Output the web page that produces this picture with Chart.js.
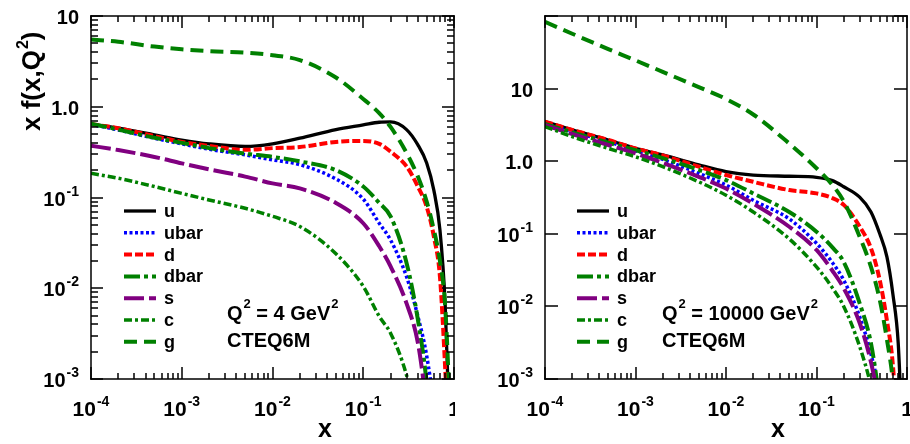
<!DOCTYPE html>
<html>
<head>
<meta charset="utf-8">
<script src="https://cdn.jsdelivr.net/npm/chart.js@4.4.0/dist/chart.umd.min.js"></script>
<style>
  html, body { margin: 0; padding: 0; background: #fff; }
  #wrap { position: relative; width: 910px; height: 444px; overflow: hidden; }
  canvas { position: absolute; top: 0; }
</style>
</head>
<body>
<div id="wrap">
  <canvas id="lowQ" width="455" height="444" style="left:0"></canvas>
  <canvas id="highQ" width="455" height="444" style="left:455px"></canvas>
</div>
<script>
const xGrid = [1e-4, 2e-4, 5e-4, 1e-3, 2e-3, 5e-3, 0.01, 0.02, 0.05, 0.1, 0.15, 0.2, 0.3, 0.4, 0.5, 0.6, 0.7, 0.8, 0.9];
const partons = ["u", "ubar", "d", "dbar", "s", "c", "g"];

// Q^2 = 4 GeV^2
const u4    = [0.645, 0.58, 0.49, 0.43, 0.39, 0.365, 0.39, 0.45, 0.56, 0.63, 0.675, 0.68, 0.56, 0.38, 0.24, 0.12, 0.044, 0.0065, 0.0002];
const ubar4 = [0.64, 0.555, 0.45, 0.39, 0.34, 0.295, 0.26, 0.23, 0.16, 0.096, 0.052, 0.034, 0.0134, 0.0049, 0.0018, 0.0005, 0.0001, 0.00002, 0.000005];
const d4    = [0.645, 0.58, 0.475, 0.41, 0.37, 0.335, 0.35, 0.36, 0.41, 0.42, 0.39, 0.32, 0.22, 0.132, 0.079, 0.037, 0.0134, 0.0013, 0.0001];
const dbar4 = [0.65, 0.56, 0.455, 0.40, 0.35, 0.305, 0.28, 0.25, 0.2, 0.132, 0.087, 0.062, 0.019, 0.0045, 0.0009, 0.0001, 0.00002, 0.000005, 0.000001];
const s4    = [0.372, 0.333, 0.28, 0.238, 0.204, 0.17, 0.143, 0.126, 0.087, 0.052, 0.029, 0.0174, 0.0068, 0.0025, 0.0005, 0.0001, 0.00002, 0.000005, 0.000001];
const c4    = [0.185, 0.163, 0.132, 0.111, 0.094, 0.076, 0.062, 0.048, 0.024, 0.0105, 0.0049, 0.0032, 0.0011, 0.0003, 0.00006, 0.00001, 0.000002, 0.0000005, 0.0000001];
const g4    = [5.5, 5.2, 4.6, 4.3, 4.1, 3.95, 3.7, 3.27, 2.1, 1.22, 0.85, 0.60, 0.31, 0.17, 0.09, 0.044, 0.020, 0.0063, 0.0005];

// Q^2 = 10000 GeV^2
const u1e4    = [3.5, 2.7, 1.96, 1.5, 1.22, 0.89, 0.72, 0.645, 0.62, 0.60, 0.54, 0.445, 0.32, 0.20, 0.10, 0.048, 0.0144, 0.0031, 0.0001];
const ubar1e4 = [3.3, 2.55, 1.86, 1.40, 1.06, 0.68, 0.47, 0.29, 0.16, 0.074, 0.04, 0.023, 0.0072, 0.0022, 0.0006, 0.0001, 0.00002, 0.000005, 0.000001];
const d1e4    = [3.5, 2.7, 1.96, 1.5, 1.2, 0.84, 0.645, 0.52, 0.40, 0.36, 0.31, 0.25, 0.126, 0.063, 0.023, 0.0064, 0.0015, 0.0001, 0.00001];
const dbar1e4 = [3.25, 2.5, 1.8, 1.42, 1.1, 0.76, 0.55, 0.36, 0.2, 0.107, 0.065, 0.041, 0.011, 0.0031, 0.0005, 0.0001, 0.00002, 0.000005, 0.000001];
const s1e4    = [3.15, 2.37, 1.67, 1.28, 0.95, 0.61, 0.42, 0.26, 0.125, 0.06, 0.031, 0.0178, 0.0059, 0.0017, 0.0004, 0.00008, 0.00002, 0.000005, 0.000001];
const c1e4    = [3.0, 2.18, 1.5, 1.15, 0.84, 0.52, 0.34, 0.20, 0.085, 0.035, 0.018, 0.010, 0.0028, 0.0008, 0.0002, 0.00004, 0.00001, 0.000002, 0.0000005];
const g1e4    = [83, 57, 35, 24.5, 17, 10.5, 7.2, 4.4, 1.75, 0.8, 0.47, 0.28, 0.091, 0.035, 0.0123, 0.0035, 0.0009, 0.0001, 0.00001];

// tick labels: [mantissa, exponent]
const xTicks = [1e-4, 1e-3, 1e-2, 1e-1, 1];
const xTickLabels = [["10", "-4"], ["10", "-3"], ["10", "-2"], ["10", "-1"], ["1", ""]];
const yTicks = [1e-3, 1e-2, 1e-1, 1, 10];
const yTickLabels = [["10", "-3"], ["10", "-2"], ["10", "-1"], ["1.0", ""], ["10", ""]];
const minorSteps = [2, 3, 4, 5, 6, 7, 8, 9];

const lineStyle = {
  u:    { color: "#000000", dash: [], width: 3.3 },
  ubar: { color: "#0000ff", dash: [3, 2.5], width: 3.5 },
  d:    { color: "#ff0000", dash: [8, 3], width: 4 },
  dbar: { color: "#008000", dash: [16, 4, 4, 4], width: 4 },
  s:    { color: "#800080", dash: [20, 5], width: 4 },
  c:    { color: "#008000", dash: [8, 3, 3, 3], width: 3.5 },
  g:    { color: "#008000", dash: [13, 7], width: 4 }
};

const FONT = "'Liberation Sans', Arial, sans-serif";

// draws a run of [text, isSup] parts starting at x (or aligned)
function richText(ctx, x, y, parts, size, supSize, rise, align) {
  let total = 0;
  const widths = parts.map(([t, sup]) => {
    ctx.font = `bold ${sup ? supSize : size}px ${FONT}`;
    const w = ctx.measureText(t).width + (sup ? 1 : 0);
    total += w;
    return w;
  });
  let cx = x;
  if (align === "right") cx = x - total;
  else if (align === "center") cx = x - total / 2;
  ctx.textAlign = "left";
  ctx.textBaseline = "alphabetic";
  parts.forEach(([t, sup], i) => {
    ctx.font = `bold ${sup ? supSize : size}px ${FONT}`;
    ctx.fillText(t, cx + (sup ? 1 : 0), sup ? y - rise : y);
    cx += widths[i];
  });
}

// frame plus inward ticks on all four sides, placed with the chart's own scales
function drawFrame(chart, opts) {
  const ctx = chart.ctx;
  const a = chart.chartArea;
  const xs = chart.scales.x, ys = chart.scales.y;
  const L = Math.round(a.left), R = Math.round(a.right), T = Math.round(a.top), B = Math.round(a.bottom);
  const w = 1.5, h = w / 2;
  ctx.save();
  ctx.fillStyle = "#000000";
  ctx.fillRect(L - h, T - h, R - L + w, w);
  ctx.fillRect(L - h, B - h, R - L + w, w);
  ctx.fillRect(L - h, T - h, w, B - T + w);
  ctx.fillRect(R - h, T - h, w, B - T + w);

  const xMarks = [];
  xTicks.forEach(v => {
    xMarks.push([v, 12]);
    if (v < 1) minorSteps.forEach(k => xMarks.push([v * k, 6]));
  });
  xMarks.forEach(([v, len]) => {
    const px = Math.round(xs.getPixelForValue(v));
    ctx.fillRect(px - h, B - len, w, len);
    ctx.fillRect(px - h, T, w, len);
  });

  const yMarks = [];
  opts.yMajors.forEach(v => {
    yMarks.push([v, opts.yMajorLen]);
    if (opts.yMinor && v < opts.yMajors[opts.yMajors.length - 1]) minorSteps.forEach(k => yMarks.push([v * k, 7]));
  });
  yMarks.forEach(([v, len]) => {
    const py = Math.round(ys.getPixelForValue(v));
    ctx.fillRect(L, py - h, len, w);
    ctx.fillRect(R - len, py - h, len, w);
  });
  ctx.restore();
}

const framePlugin = {
  id: "frame",
  afterDraw(chart, args, opts) {
    drawFrame(chart, opts);
    const ctx = chart.ctx;
    const a = chart.chartArea;
    const xs = chart.scales.x, ys = chart.scales.y;
    ctx.save();
    ctx.fillStyle = "#000";

    // tick labels
    xTicks.forEach((v, i) => {
      const [m, e] = xTickLabels[i];
      richText(ctx, xs.getPixelForValue(v), 415.5, e ? [[m, false], [e, true]] : [[m, false]], 21, 14, 10, "center");
    });
    yTicks.forEach((v, i) => {
      const [m, e] = yTickLabels[i];
      richText(ctx, a.left - 12, ys.getPixelForValue(v) + 8, e ? [[m, false], [e, true]] : [[m, false]], 20, 14, 10, "right");
    });

    // axis titles
    richText(ctx, opts.xTitleX, 437, [["x", false]], 25, 13, 10, "center");
    if (opts.yTitle) {
      ctx.save();
      ctx.translate(40, 131);
      ctx.rotate(-Math.PI / 2);
      richText(ctx, 0, 0, [["x f(x,Q", false], ["2", true], [")", false]], 26, 16, 12, "left");
      ctx.restore();
    }

    // legend
    chart.data.datasets.forEach((ds, i) => {
      const y = 211 + i * 21.8;
      ctx.save();
      ctx.strokeStyle = ds.borderColor;
      ctx.lineWidth = ds.borderWidth;
      ctx.setLineDash(ds.borderDash);
      ctx.beginPath();
      ctx.moveTo(opts.legendX, y);
      ctx.lineTo(opts.legendX + 32, y);
      ctx.stroke();
      ctx.restore();
      richText(ctx, opts.legendX + 40, y + 6, [[ds.label, false]], 18, 12, 8, "left");
    });

    // annotation
    richText(ctx, opts.noteX, 320, [["Q", false], ["2", true], [" = " + opts.q2 + " GeV", false], ["2", true]], 20, 13, 12, "left");
    richText(ctx, opts.noteX, 346.5, [["CTEQ6M", false]], 20, 13, 12, "left");
    ctx.restore();
  }
};

function makeChart(id, series, yMax, padding, opts) {
  return new Chart(document.getElementById(id), {
    type: "line",
    data: {
      datasets: partons.map((p, i) => ({
        label: p,
        data: xGrid.map((x, j) => ({ x: x, y: series[i][j] })),
        borderColor: lineStyle[p].color,
        borderDash: lineStyle[p].dash,
        borderWidth: lineStyle[p].width,
        borderCapStyle: "butt",
        pointRadius: 0,
        fill: false,
        cubicInterpolationMode: "monotone",
        clip: 0,
        order: partons.length - i
      }))
    },
    options: {
      responsive: false,
      animation: false,
      layout: { padding: padding },
      plugins: {
        legend: { display: false },
        tooltip: { enabled: false },
        frame: opts
      },
      scales: {
        x: { type: "logarithmic", min: 1e-4, max: 1, display: false },
        y: { type: "logarithmic", min: 1e-3, max: yMax, display: false }
      }
    },
    plugins: [framePlugin]
  });
}

makeChart("lowQ", [u4, ubar4, d4, dbar4, s4, c4, g4], 10,
  { left: 91, right: 1, top: 16, bottom: 65 },
  { yMajors: [1e-3, 1e-2, 1e-1, 1, 10], yMinor: true, yMajorLen: 12, yTitle: true, xTitleX: 325, legendX: 124, noteX: 227, q2: "4" });

makeChart("highQ", [u1e4, ubar1e4, d1e4, dbar1e4, s1e4, c1e4, g1e4], 100,
  { left: 90, right: 3, top: 16, bottom: 65 },
  { yMajors: [1e-3, 1e-2, 1e-1, 1, 10, 100], yMinor: false, yMajorLen: 13, yTitle: false, xTitleX: 323, legendX: 122, noteX: 207, q2: "10000" });
</script>
</body>
</html>
